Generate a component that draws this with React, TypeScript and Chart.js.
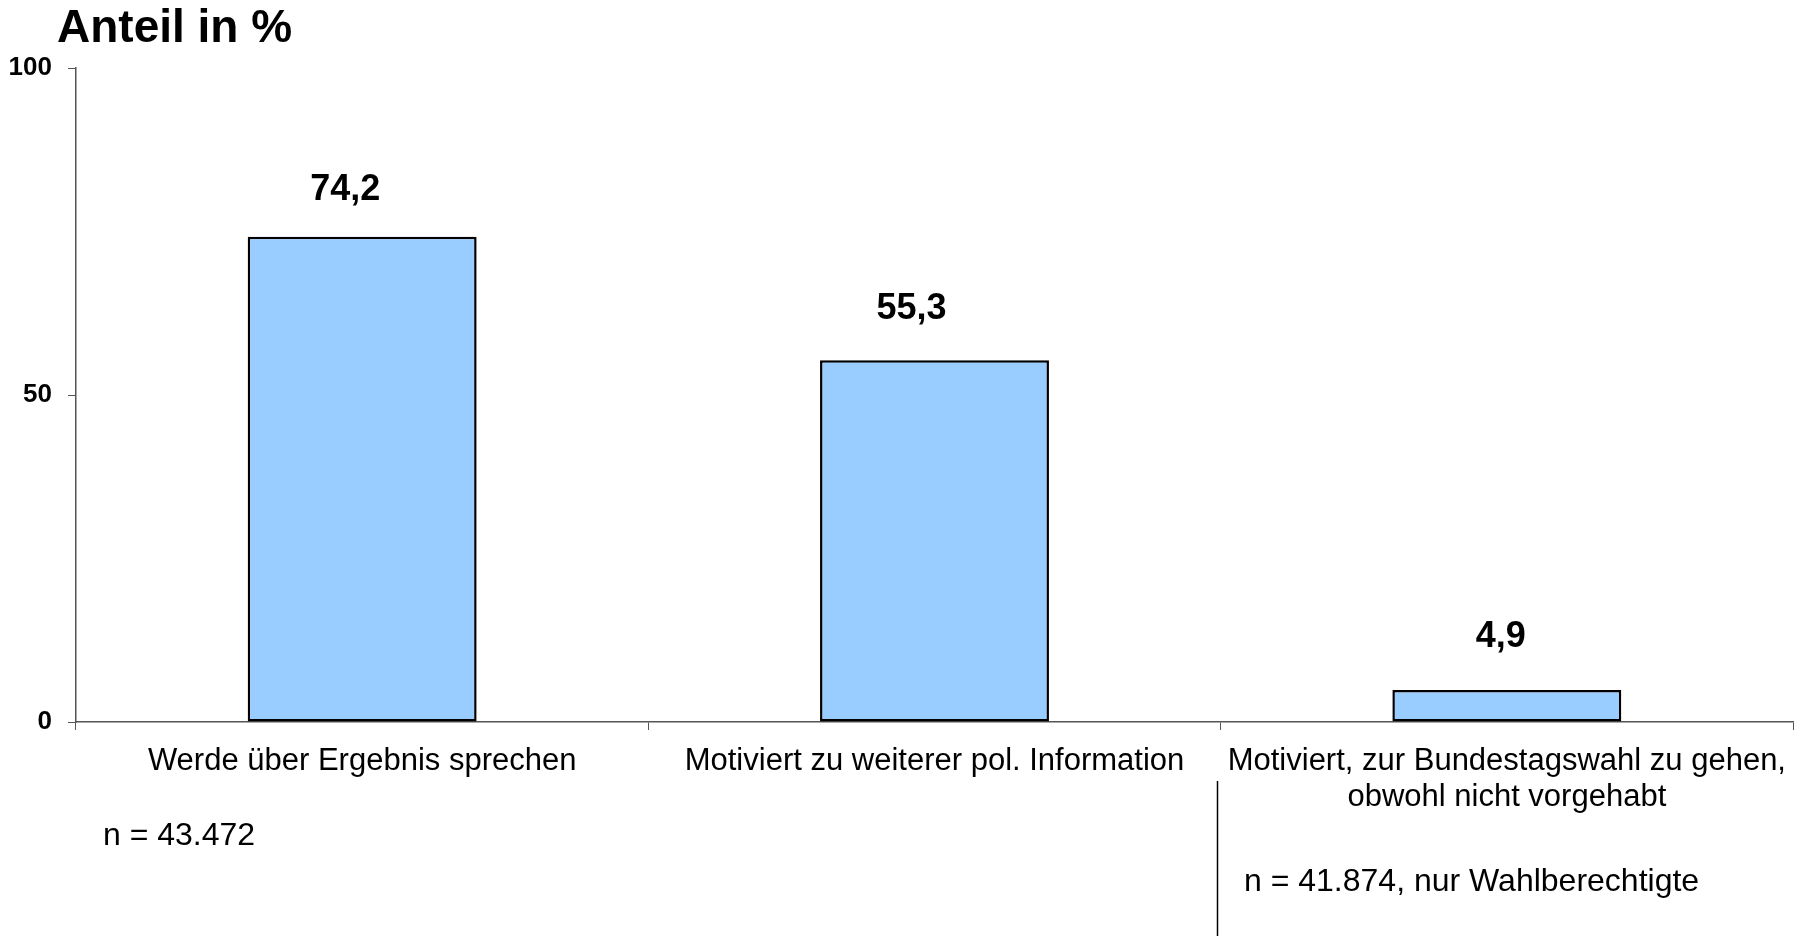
import React, { useEffect, useRef } from "react";
import { Chart, registerables } from "chart.js";

Chart.register(...registerables);

const categories: (string | string[])[] = [
  "Werde über Ergebnis sprechen",
  "Motiviert zu weiterer pol. Information",
  ["Motiviert, zur Bundestagswahl zu gehen,", "obwohl nicht vorgehabt"],
];
const values: number[] = [74.2, 55.3, 4.9];
const valueLabels: string[] = ["74,2", "55,3", "4,9"];
const yTicks: number[] = [0, 50, 100];
const titleText = "Anteil in %";
const noteLeft = "n = 43.472";
const noteRight = "n = 41.874, nur Wahlberechtigte";

// label nudges (style only, px)
const labelDx: number[] = [-17, -23, -6];
const labelDy: number[] = [-47, -51, -53];

const FONT = "'Liberation Sans', Arial, Helvetica, sans-serif";

const overlayPlugin = {
  id: "overlay",
  afterDatasetsDraw(chart: any) {
    const ctx = chart.ctx;
    const meta = chart.getDatasetMeta(0);
    ctx.save();
    ctx.fillStyle = "#000";
    ctx.textAlign = "center";
    ctx.textBaseline = "middle";
    ctx.font = `bold 36px ${FONT}`;
    meta.data.forEach((bar: any, i: number) => {
      ctx.fillText(valueLabels[i], bar.x + labelDx[i], bar.y + labelDy[i]);
    });
    ctx.restore();
  },
  afterDraw(chart: any) {
    const ctx = chart.ctx;
    const xs = chart.scales.x;
    ctx.save();
    ctx.fillStyle = "#000";
    ctx.textAlign = "left";
    ctx.textBaseline = "alphabetic";
    ctx.font = `bold 46px ${FONT}`;
    ctx.fillText(titleText, 57, 42);
    ctx.font = `32px ${FONT}`;
    ctx.textBaseline = "middle";
    ctx.fillText(noteLeft, 103, 836);
    ctx.fillText(noteRight, 1244, 882);
    const lx = Math.round(xs.getPixelForValue(1.5)) - 3.5;
    ctx.strokeStyle = "#000";
    ctx.lineWidth = 1.5;
    ctx.beginPath();
    ctx.moveTo(lx, 781);
    ctx.lineTo(lx, 936);
    ctx.stroke();
    ctx.restore();
  },
};

export default function App() {
  const ref = useRef<HTMLCanvasElement | null>(null);
  useEffect(() => {
    if (!ref.current) return;
    const chart = new Chart(ref.current, {
      type: "bar",
      data: {
        labels: categories as any,
        datasets: [
          {
            data: values,
            backgroundColor: "#99CCFF",
            borderColor: "#000",
            borderWidth: 2.5,
            borderSkipped: false,
            barPercentage: 0.4,
            categoryPercentage: 1,
          },
        ],
      },
      options: {
        animation: false,
        responsive: false,
        maintainAspectRatio: false,
        devicePixelRatio: 1,
        layout: { padding: { left: 0, top: 68, right: 9, bottom: 0 } },
        plugins: {
          legend: { display: false },
          title: { display: false },
          tooltip: { enabled: false },
        },
        scales: {
          x: {
            grid: {
              display: true,
              drawOnChartArea: false,
              drawTicks: true,
              tickLength: 8,
              color: "#555",
              offset: true,
            },
            border: { display: true, color: "#555", width: 1.5 },
            ticks: {
              color: "#000",
              font: { family: FONT, size: 31, lineHeight: 1.15 },
              padding: 14,
              maxRotation: 0,
              autoSkip: false,
            },
            afterFit(scale: any) {
              scale.height = 936 - 722;
            },
          },
          y: {
            min: 0,
            max: 100,
            afterBuildTicks(scale: any) {
              scale.ticks = yTicks.map((v) => ({ value: v }));
            },
            grid: {
              display: true,
              drawOnChartArea: false,
              drawTicks: true,
              tickLength: 8,
              color: "#555",
            },
            border: { display: true, color: "#555", width: 1.5 },
            ticks: {
              color: "#000",
              font: { family: FONT, size: 26, weight: "bold" },
              padding: 16,
            },
            afterFit(scale: any) {
              scale.width = 76;
            },
          },
        },
      },
      plugins: [overlayPlugin],
    });
    return () => chart.destroy();
  }, []);
  return (
    <div style={{ position: "fixed", left: 0, top: 0, width: 1802, height: 936, background: "#fff" }}>
      <canvas ref={ref} width={1802} height={936} style={{ width: 1802, height: 936, display: "block" }} />
    </div>
  );
}
